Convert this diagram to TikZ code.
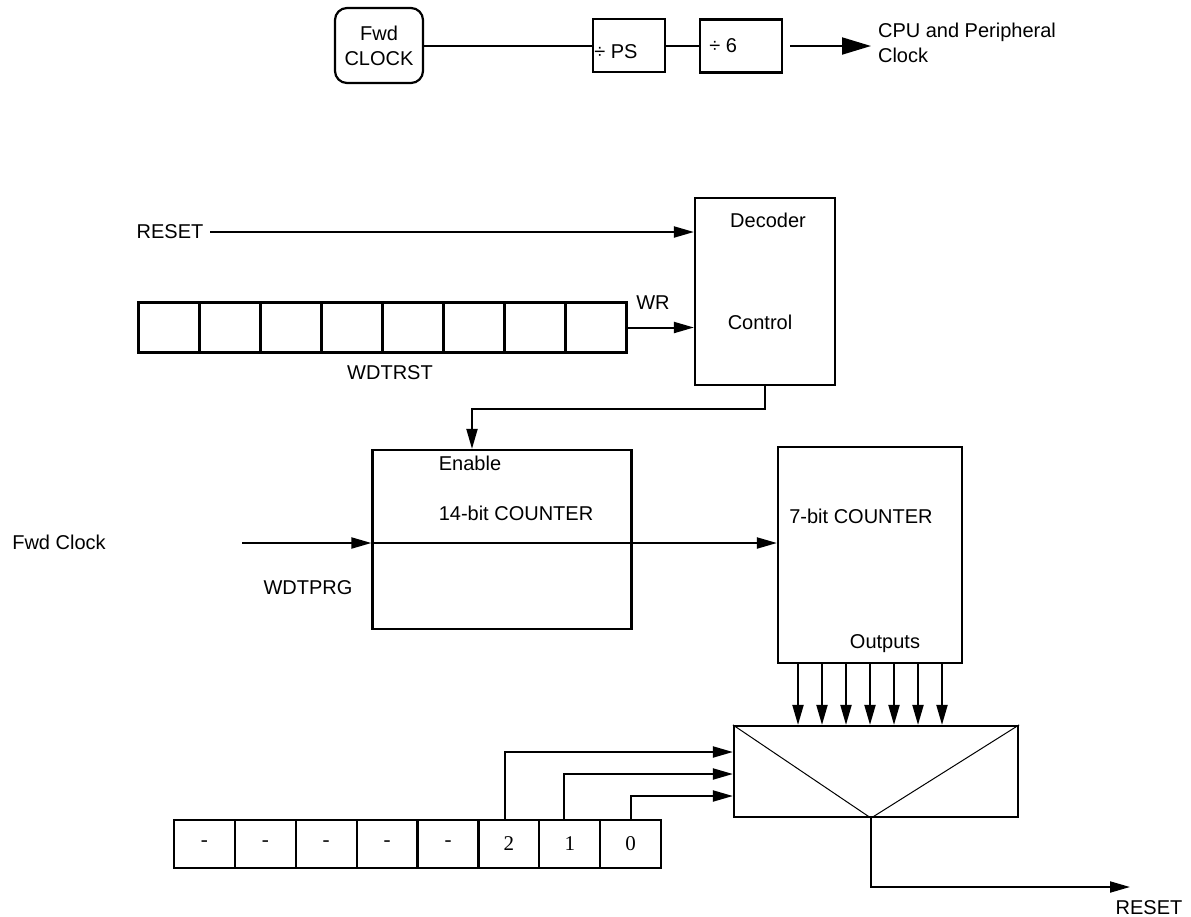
\documentclass[tikz,border=0pt]{standalone}
\usepackage{fontspec}
\setmainfont{Liberation Sans}
\newfontfamily\regfont{Liberation Serif}
\usetikzlibrary{arrows.meta,positioning,calc}

\begin{document}
\begin{tikzpicture}[x=0.5pt,y=-0.5pt,
  font=\fontsize{10}{12.5}\selectfont,
  blk/.style={draw,line width=1.1pt,inner sep=0pt},
  cell/.style={draw,line width=1.1pt,minimum width=30.5pt,minimum height=25pt,
               inner sep=0pt},
  arr/.style={-{Triangle[length=10pt,width=5.5pt]},line width=1pt},
  bigarr/.style={-{Triangle[length=14.5pt,width=8.5pt]},line width=1pt},
  diag/.style={line width=0.5pt}]
  \useasboundingbox (0,0) rectangle (1191,917);
  \node[blk,rounded corners=6pt,minimum width=44pt,minimum height=37.5pt,
        align=center] (fwdclk) at (379,45.5) {Fwd\\CLOCK};
  \node[blk,minimum width=36pt,minimum height=26.5pt] (divps) at (629,45.5) {};
  \node[anchor=west,inner sep=0pt] (divps-lbl) at ([xshift=1pt,yshift=-3.25pt]divps.west)
       {÷ PS};
  \node[blk,minimum width=41pt,minimum height=26.5pt] (div6) at (741,46) {};
  \node[anchor=west,inner sep=0pt] (div6-lbl) at ([xshift=5pt]div6.west) {÷ 6};
  \node[anchor=west,align=left] (cpu) at (871,42.5) {CPU and Peripheral\\Clock};
  \draw[line width=1pt] (fwdclk) -- (divps);
  \draw[line width=1pt] (divps.east) -- (divps.east -| div6.west);
  \draw[bigarr] ([xshift=3.5pt]div6.east) -- (div6.east -| cpu.west);
  \node[blk,minimum width=70pt,minimum height=93.5pt] (decoder) at (765,291.5) {};
  \node (dec-top) at (768,220) {Decoder};
  \node (dec-ctl) at (760,322) {Control};
  \node (rstin) at (170,232) {RESET};
  \draw[arr] (rstin.east) -- (rstin.east -| decoder.west);
  \foreach \i in {0,...,7}
    \node[cell] (w\i) at ({169+61*\i},327.5) {};
  \node (wr) at (653,303) {WR};
  \node (wdtrst) at (390,373) {WDTRST};
  \draw[arr] (w7.east) -- (w7.east -| decoder.west);
  \node[blk,minimum width=129.5pt,minimum height=89.5pt] (cnt14) at (502,539.5) {};
  \node (enable) at (470,463) {Enable};
  \node (cnt14-lbl) at (516,513) {14-bit COUNTER};
  \draw[arr] (decoder.south) -- ++(0,23) -| ([xshift=-15pt]cnt14.north);
  \node[blk,minimum width=92pt,minimum height=108pt] (cnt7) at (870,555) {};
  \node (cnt7-lbl) at (861,516) {7-bit COUNTER};
  \node (outs) at (885,644) {Outputs};
  \node (fwdin) at (59,542) {Fwd Clock};
  \node (wdtprg) at (308,588) {WDTPRG};
  \coordinate (clkin) at (242,543);
  \draw[arr] (clkin) -- (clkin -| cnt14.west);
  \draw[arr] (clkin -| cnt14.west) -- (clkin -| cnt7.west);
  \node[blk,minimum width=142pt,minimum height=45.5pt] (mux) at (876,771.5) {};
  \coordinate (vtx) at ([xshift=-2.5pt]mux.south);
  \draw[diag] (mux.north west) -- (vtx) -- (mux.north east);
  \foreach \dx in {-36,-24,...,36}
    \draw[arr] ([xshift=\dx pt]cnt7.south) -- ([xshift=\dx pt]cnt7.south |- mux.north);
  \foreach \bitval [count=\i from 0] in {-,-,-,-,-,2,1,0}
    \node[cell,minimum width=30.45pt,minimum height=24pt,
          font=\regfont\fontsize{10.5}{12}\selectfont] (b\i) at ({204.4+60.9*\i},844) {\bitval};
  \draw[arr] ([xshift=-2pt]b5.north) |- ([yshift=9.75pt]mux.west);
  \draw[arr] ([xshift=-3pt]b6.north) |- ([yshift=-1.25pt]mux.west);
  \draw[arr] (b7.north) |- ([yshift=-12.25pt]mux.west);
  \coordinate (rstout) at (1130,887);
  \draw[arr] (vtx) |- (rstout);
  \node (rstlbl) at (1149,908) {RESET};
\end{tikzpicture}
\end{document}
